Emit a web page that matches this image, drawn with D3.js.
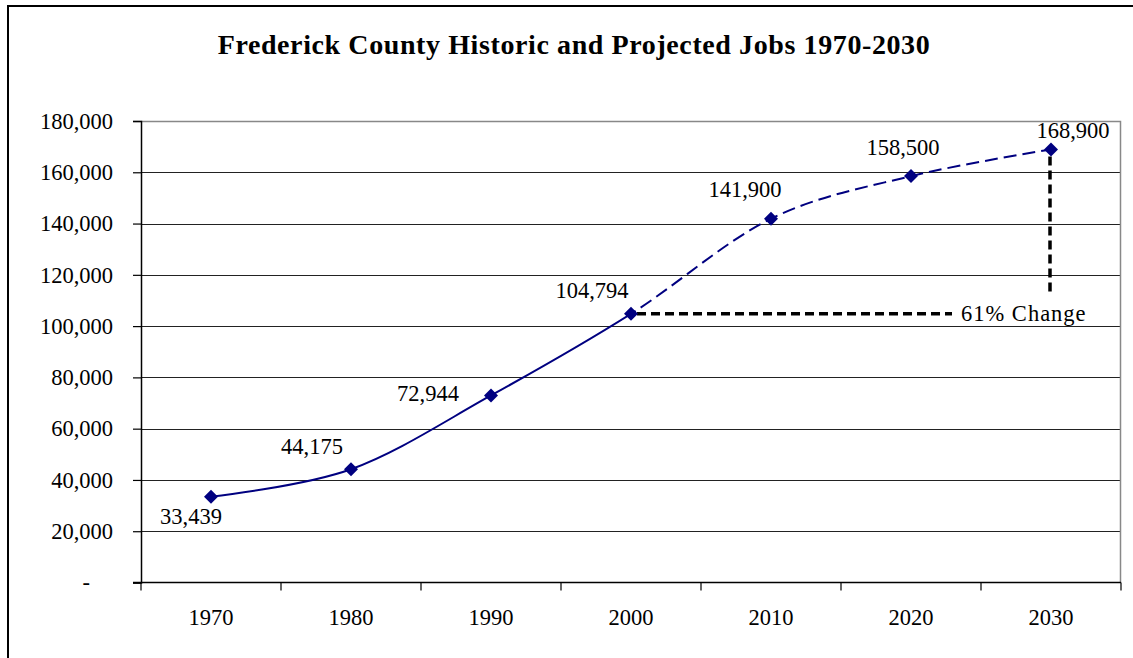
<!DOCTYPE html>
<html>
<head>
<meta charset="utf-8">
<script src="https://cdn.jsdelivr.net/npm/d3@7"></script>
<style>
  html, body { margin: 0; padding: 0; background: #fff; }
  svg { display: block; font-family: "Liberation Serif", "Times New Roman", serif; }
</style>
</head>
<body>
<svg id="chart" width="1133" height="658"></svg>
<script>
// Jobs in Frederick County, historic (1970-2000) and projected (2010-2030)
const years = ["1970", "1980", "1990", "2000", "2010", "2020", "2030"];
const jobs = [33439, 44175, 72944, 104794, 141900, 158500, 168900];
const yTicks = [0, 20000, 40000, 60000, 80000, 100000, 120000, 140000, 160000, 180000];
const lastHistoricYear = "2000";
const changeLabel = "61% Change";

// Label placement around each marker (dx, dy in px, relative to the point)
const labelOffsets = [[-20, 27], [-39, -15], [-63, 6], [-39, -16], [-26, -22], [-8, -21], [22, -11]];

const svg = d3.select("#chart");
const W = 1133, H = 658;
const plot = { left: 141, right: 1121, top: 121, bottom: 582.5 };
const FS = 22.5;

// Outer chart frame
svg.append("rect")
  .attr("x", 8).attr("y", 6).attr("width", W + 20).attr("height", H + 20)
  .attr("fill", "none").attr("stroke", "#000").attr("stroke-width", 2);

// Title
svg.append("text")
  .attr("x", 574).attr("y", 54)
  .attr("text-anchor", "middle")
  .attr("font-size", 28).attr("font-weight", "bold")
  .attr("letter-spacing", 0.6)
  .text("Frederick County Historic and Projected Jobs 1970-2030");

const x = d3.scaleBand().domain(years).range([plot.left, plot.right]).padding(0);
const y = d3.scaleLinear().domain([0, 180000]).range([plot.bottom, plot.top]);
const cx = d => x(d) + x.bandwidth() / 2;

// Horizontal gridlines
svg.append("g").selectAll("line")
  .data(yTicks.filter(t => t > 0 && t < 180000))
  .join("line")
  .attr("x1", plot.left).attr("x2", plot.right - 1)
  .attr("y1", d => Math.round(y(d)) + 0.5).attr("y2", d => Math.round(y(d)) + 0.5)
  .attr("stroke", "#222").attr("stroke-width", 1);

// Plot-area border (top and right)
svg.append("path")
  .attr("d", `M${plot.left},${plot.top + 0.5} H${plot.right - 0.5} V${plot.bottom}`)
  .attr("fill", "none").attr("stroke", "#888").attr("stroke-width", 1.5);

// Y axis
const fmt = d3.format(",");
const yAxis = d3.axisLeft(y).tickValues(yTicks).tickSize(8).tickPadding(20)
  .tickFormat(d => d === 0 ? "-" : fmt(d));
const gy = svg.append("g").attr("transform", `translate(${plot.left},0)`).call(yAxis);
gy.select(".domain").attr("stroke", "#000").attr("stroke-width", 1.5);
gy.selectAll(".tick line").attr("stroke", "#000").attr("stroke-width", 1.2);
gy.selectAll(".tick text")
  .attr("font-family", "Liberation Serif, Times New Roman, serif")
  .attr("font-size", FS).attr("fill", "#000")
  .attr("dy", "0.32em")
  .attr("x", d => d === 0 ? -51 : -28);

// X axis with ticks at category boundaries
const gx = svg.append("g").attr("transform", `translate(0,${plot.bottom})`);
gx.append("line")
  .attr("x1", plot.left - 8).attr("x2", plot.right)
  .attr("stroke", "#000").attr("stroke-width", 1.5);
gx.selectAll("line.tk")
  .data(years.map(d => x(d)).concat([plot.right]))
  .join("line").attr("class", "tk")
  .attr("x1", d => d).attr("x2", d => d)
  .attr("y1", 0).attr("y2", 8)
  .attr("stroke", "#000").attr("stroke-width", 1.2);
gx.selectAll("text")
  .data(years)
  .join("text")
  .attr("x", d => cx(d)).attr("y", 42.5)
  .attr("text-anchor", "middle")
  .attr("font-size", FS)
  .text(d => d);

// Smoothed jobs line; solid for historic years, dashed for projections
const pts = years.map((yr, i) => [cx(yr), y(jobs[i])]);
const line = d3.line().curve(d3.curveCardinal.tension(0));
const splitX = cx(lastHistoricYear);
const defs = svg.append("defs");
defs.append("clipPath").attr("id", "clipHist")
  .append("rect").attr("x", 0).attr("y", 0).attr("width", splitX).attr("height", H);
defs.append("clipPath").attr("id", "clipProj")
  .append("rect").attr("x", splitX).attr("y", 0).attr("width", W - splitX).attr("height", H);

svg.append("path")
  .attr("d", line(pts))
  .attr("clip-path", "url(#clipHist)")
  .attr("fill", "none").attr("stroke", "#000080").attr("stroke-width", 2);
svg.append("path")
  .attr("d", line(pts))
  .attr("clip-path", "url(#clipProj)")
  .attr("fill", "none").attr("stroke", "#000080").attr("stroke-width", 2)
  .attr("stroke-dasharray", "13,6");

// Change annotation: from the 2000 level across to 2030, and down from the 2030 value
const i2000 = years.indexOf(lastHistoricYear);
const iLast = years.length - 1;
const y2000 = y(jobs[i2000]);
svg.append("line")
  .attr("x1", cx(lastHistoricYear) + 6).attr("x2", 952)
  .attr("y1", y2000).attr("y2", y2000)
  .attr("stroke", "#000").attr("stroke-width", 3.5)
  .attr("stroke-dasharray", "9,5");
svg.append("line")
  .attr("x1", cx(years[iLast]) - 1).attr("x2", cx(years[iLast]) - 1)
  .attr("y1", y(jobs[iLast]) + 7).attr("y2", 292)
  .attr("stroke", "#000").attr("stroke-width", 3.5)
  .attr("stroke-dasharray", "9,5");
svg.append("text")
  .attr("x", 961).attr("y", y2000 + 7)
  .attr("font-size", FS)
  .attr("letter-spacing", 1)
  .text(changeLabel);

// Diamond markers
svg.append("g").selectAll("path")
  .data(pts)
  .join("path")
  .attr("transform", d => `translate(${d[0]},${d[1]})`)
  .attr("d", "M0,-7 L7,0 L0,7 L-7,0 Z")
  .attr("fill", "#000080");

// Value labels
svg.append("g").selectAll("text")
  .data(jobs)
  .join("text")
  .attr("x", (d, i) => pts[i][0] + labelOffsets[i][0])
  .attr("y", (d, i) => pts[i][1] + labelOffsets[i][1])
  .attr("text-anchor", "middle")
  .attr("font-size", FS)
  .text(d => fmt(d));
</script>
</body>
</html>
